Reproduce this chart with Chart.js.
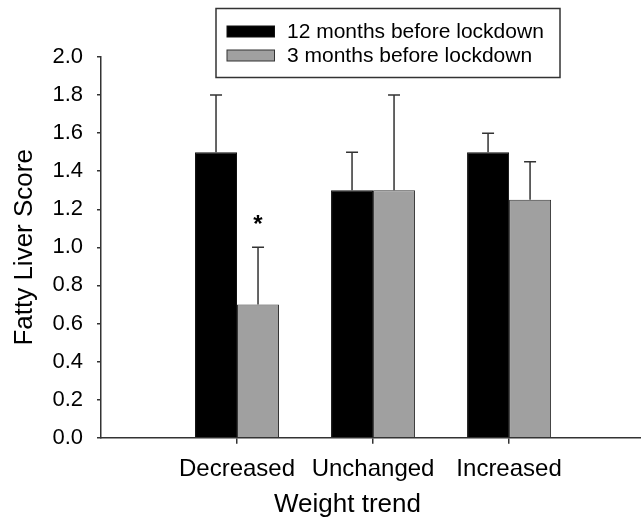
<!DOCTYPE html>
<html><head><meta charset="utf-8">
<script src="https://cdn.jsdelivr.net/npm/chart.js@4.4.0/dist/chart.umd.min.js"></script>
<style>html,body{margin:0;padding:0;background:#fff;} #wrap{width:641px;height:517px;position:relative;}</style>
</head><body><div id="wrap"><canvas id="c"></canvas></div>
<script>
const categories = ['Decreased', 'Unchanged', 'Increased'];
const seriesLabels = ['12 months before lockdown', '3 months before lockdown'];
const series12 = [1.5, 1.3, 1.5];
const err12 = [0.3, 0.2, 0.1];
const series3 = [0.7, 1.3, 1.25];
const err3 = [0.3, 0.5, 0.2];
const sigMarks3 = ['*', '', ''];
const sigMarkY3 = [1.14, null, null];
const yTicks = [0, 0.2, 0.4, 0.6, 0.8, 1.0, 1.2, 1.4, 1.6, 1.8, 2.0];
const xTitle = 'Weight trend';
const yTitle = 'Fatty Liver Score';

const FONT = "'Liberation Sans', Arial, sans-serif";
const errors = [err12, err3];
const fills = ['#000000', '#a0a0a0'];
const borders = ['#111111', '#333333'];
const toPoints = (arr) => arr.map((v, i) => ({ x: i + 1, y: v }));

const errorBarPlugin = {
  id: 'errorBars',
  afterDatasetsDraw(chart) {
    const ctx = chart.ctx, y = chart.scales.y;
    ctx.save();
    ctx.strokeStyle = '#333';
    ctx.lineWidth = 1.5;
    chart.data.datasets.forEach((ds, i) => {
      const meta = chart.getDatasetMeta(i);
      meta.data.forEach((el, j) => {
        const v = ds.data[j].y, e = errors[i][j];
        if (v == null || e == null) return;
        const top = y.getPixelForValue(v + e);
        ctx.beginPath();
        ctx.moveTo(el.x, el.y);
        ctx.lineTo(el.x, top);
        ctx.moveTo(el.x - 6, top);
        ctx.lineTo(el.x + 6, top);
        ctx.stroke();
      });
    });
    const meta3 = chart.getDatasetMeta(1);
    ctx.fillStyle = '#000';
    ctx.font = 'bold 24px ' + FONT;
    ctx.textAlign = 'center';
    ctx.textBaseline = 'alphabetic';
    sigMarks3.forEach((m, j) => {
      if (!m) return;
      const el = meta3.data[j];
      ctx.fillText(m, el.x, y.getPixelForValue(sigMarkY3[j]) + 11);
    });
    ctx.restore();
  }
};

const textPlugin = {
  id: 'boxLegendAndTitle',
  afterDraw(chart) {
    const ctx = chart.ctx;
    ctx.save();
    ctx.fillStyle = '#000';
    ctx.font = '26px ' + FONT;
    ctx.textAlign = 'center';
    ctx.textBaseline = 'alphabetic';
    ctx.fillText(xTitle, 347.5, 512);
    ctx.strokeStyle = '#333';
    ctx.lineWidth = 1.5;
    ctx.fillStyle = '#fff';
    ctx.fillRect(216, 8.5, 344, 69);
    ctx.strokeRect(216, 8.5, 344, 69);
    const rows = [31.5, 55.5];
    seriesLabels.forEach((lab, i) => {
      const cy = rows[i];
      ctx.fillStyle = fills[i];
      ctx.fillRect(227, cy - 5.5, 47.5, 11);
      ctx.lineWidth = 1;
      ctx.strokeStyle = borders[i];
      ctx.strokeRect(227, cy - 5.5, 47.5, 11);
      ctx.fillStyle = '#000';
      ctx.font = '21px ' + FONT;
      ctx.textAlign = 'left';
      ctx.textBaseline = 'middle';
      ctx.fillText(lab, 287, cy + 1);
    });
    ctx.restore();
  }
};

new Chart(document.getElementById('c'), {
  type: 'bar',
  data: {
    datasets: [
      { label: seriesLabels[0], data: toPoints(series12), backgroundColor: fills[0], borderColor: borders[0], borderWidth: 1 },
      { label: seriesLabels[1], data: toPoints(series3), backgroundColor: fills[1], borderColor: borders[1], borderWidth: 1 }
    ]
  },
  options: {
    responsive: true,
    maintainAspectRatio: false,
    animation: false,
    devicePixelRatio: 1,
    layout: { padding: { left: 0, right: 0, top: 57, bottom: 0 } },
    datasets: { bar: { categoryPercentage: 0.6176, barPercentage: 1.0 } },
    scales: {
      x: {
        type: 'linear',
        min: 0, max: 3.97,
        offset: false,
        afterBuildTicks: (s) => { s.ticks = categories.map((c, i) => ({ value: i + 1 })); },
        grid: { display: true, offset: false, drawOnChartArea: false, drawTicks: true, tickLength: 6, lineWidth: 1.5, color: '#333' },
        border: { display: true, color: '#333', width: 1.5 },
        ticks: { color: '#000', font: { family: FONT, size: 24 }, padding: 11, maxRotation: 0, autoSkip: false,
                 callback: (v) => categories[Math.round(v) - 1] || '' },
        title: { display: false },
        afterFit: (s) => { s.height = 79.3; }
      },
      y: {
        min: 0, max: 2,
        afterBuildTicks: (s) => { s.ticks = yTicks.map(v => ({ value: v })); },
        grid: { display: true, drawOnChartArea: false, drawTicks: true, tickLength: 4, lineWidth: 1.5, color: '#333' },
        border: { display: true, color: '#333', width: 1.5 },
        ticks: { color: '#000', font: { family: FONT, size: 22 }, padding: 14, callback: (v) => Number(v).toFixed(1) },
        title: { display: true, text: yTitle, color: '#000', font: { family: FONT, size: 26 }, padding: { top: 9, bottom: 0 } },
        afterFit: (s) => { s.width = 101; }
      }
    },
    plugins: { legend: { display: false }, tooltip: { enabled: false } }
  },
  plugins: [errorBarPlugin, textPlugin]
});
</script>
</body></html>
